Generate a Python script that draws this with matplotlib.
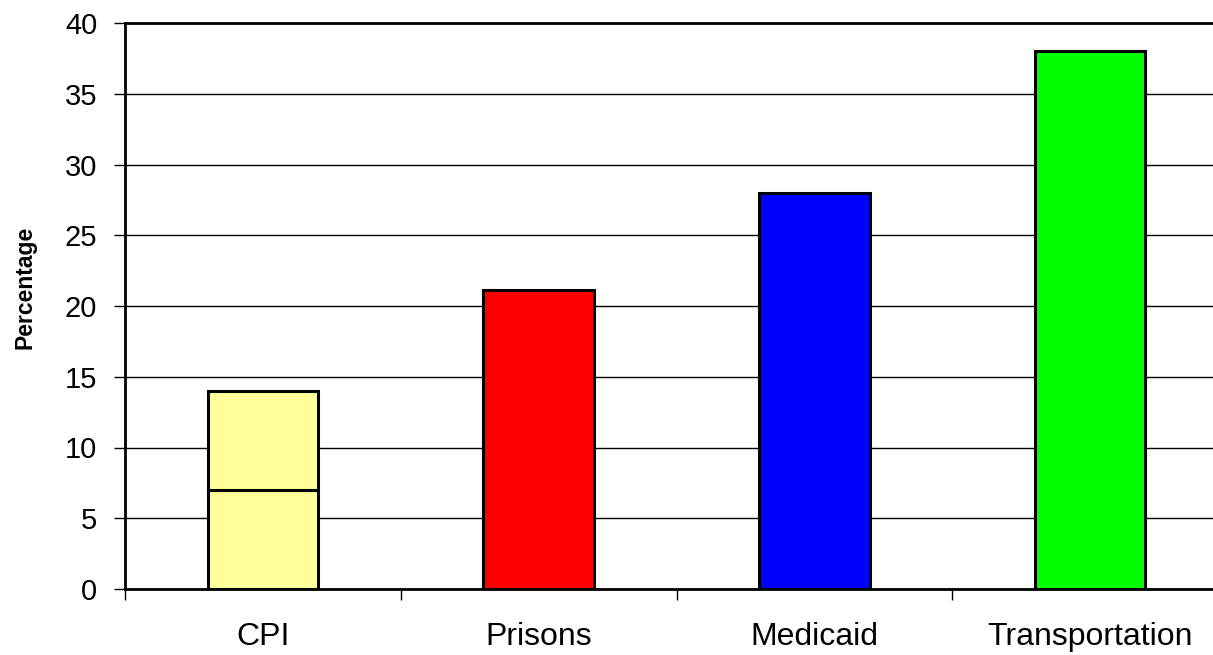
import matplotlib
matplotlib.use("Agg")
import matplotlib.pyplot as plt
import numpy as np

categories = ["CPI", "Prisons", "Medicaid", "Transportation"]
lower_values = [7, 21.1, 28, 38]
upper_values = [7, 0, 0, 0]
colors = ["#FFFF99", "#FF0000", "#0000FF", "#00FF00"]
yticks = [0, 5, 10, 15, 20, 25, 30, 35, 40]

plt.rcParams['font.family'] = ['Liberation Sans', 'DejaVu Sans']

W, H = 1213, 655
fig = plt.figure(figsize=(W / 100, H / 100), dpi=100)
left, right, top, bottom = 125, 1228, 23, 589
ax = fig.add_axes([left / W, 1 - bottom / H, (right - left) / W, (bottom - top) / H])

x = np.arange(len(categories))
width = 0.4
ax.bar(x, lower_values, width=width, color=colors, edgecolor="black", linewidth=2.2, zorder=3)
for i, (lo, up) in enumerate(zip(lower_values, upper_values)):
    if up > 0:
        ax.bar(x[i], up, bottom=lo, width=width, color=colors[i], edgecolor="black", linewidth=2.2, zorder=3)

ax.set_xlim(-0.5, len(categories) - 0.5)
ax.set_ylim(0, 40)
ax.set_yticks(yticks)
ax.yaxis.grid(True, color="black", linewidth=1)
ax.set_axisbelow(True)

ax.set_xticks(x)
ax.set_xticklabels(categories, fontsize=23)
ax.set_xticks(np.arange(len(categories) + 1) - 0.5, minor=True)
ax.tick_params(axis="x", which="major", length=0, pad=24)
ax.tick_params(axis="x", which="minor", length=8, width=1, direction="out")
ax.tick_params(axis="y", labelsize=21, length=8, width=1, pad=12)

for s in ["left", "bottom", "top"]:
    ax.spines[s].set_linewidth(2)
ax.spines["right"].set_visible(False)

fig.text(25 / W, 1 - 287 / H, "Percentage", rotation=90, fontsize=16.5,
         fontweight="bold", ha="center", va="center")

fig.savefig("out.png", dpi=100)
